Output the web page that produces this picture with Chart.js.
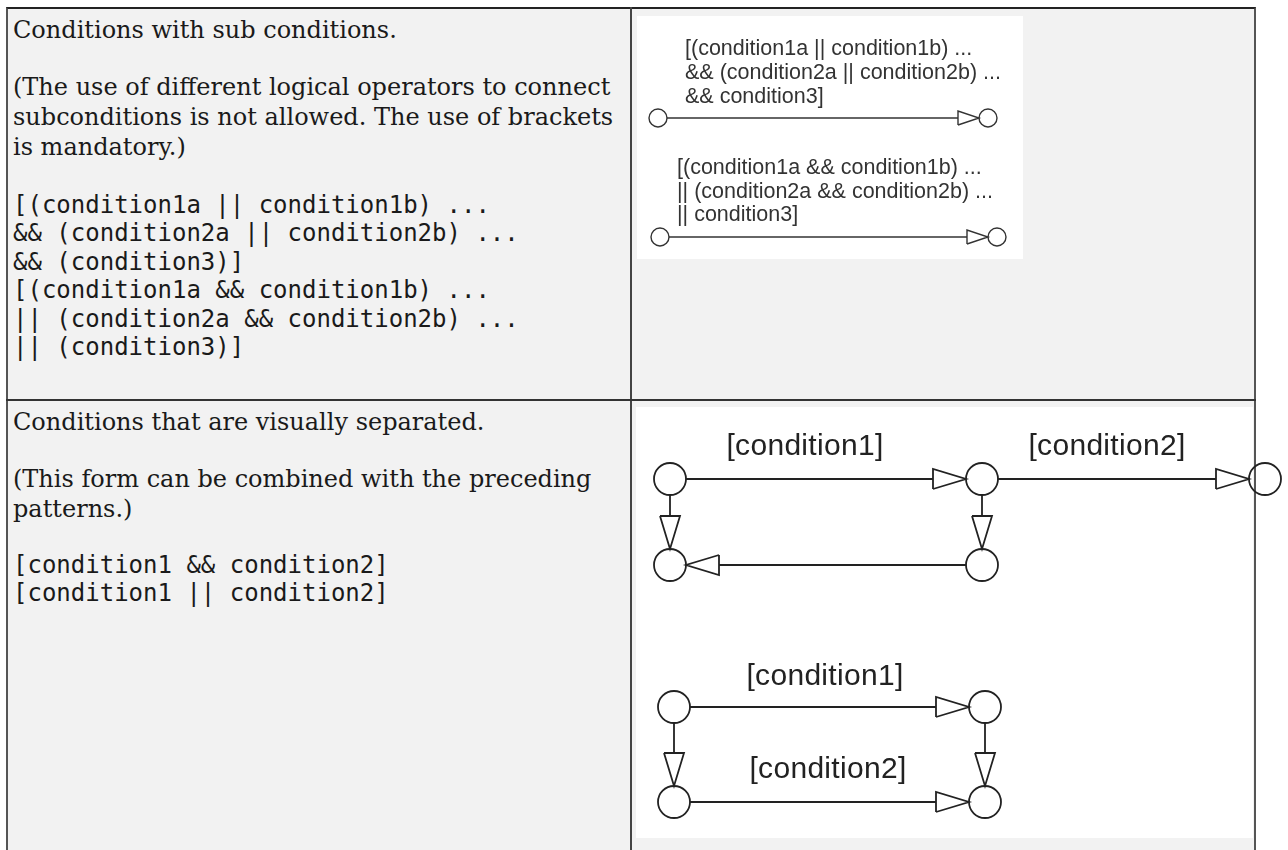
<!DOCTYPE html>
<html>
<head>
<meta charset="utf-8">
<script src="https://cdn.jsdelivr.net/npm/chart.js@4.4.1/dist/chart.umd.min.js"></script>
<style>
  html, body { margin:0; padding:0; background:#fff; width:1288px; height:850px; overflow:hidden; }
  .abs { position:absolute; }
  #tbl { left:6px; top:7px; width:1250px; height:900px; box-sizing:border-box;
         border-top:2px solid #222; border-left:2px solid #555; border-right:2px solid #555; background:#f2f2f2; }
  #vdiv { left:630px; top:7px; width:2px; height:900px; background:#444; }
  #hdiv { left:6px; top:399px; width:1250px; height:2px; background:#333; }
  .serif { font-family:"DejaVu Serif", serif; font-size:24px; line-height:30px; color:#1a1a1a; white-space:nowrap; }
  .mono { font-family:"DejaVu Sans Mono", monospace; font-size:24px; line-height:28.4px; color:#1a1a1a; white-space:pre; }
  .white { background:#fff; }
  canvas { position:absolute; display:block; }
</style>
</head>
<body>
<div id="tbl" class="abs"></div>
<div id="vdiv" class="abs"></div>
<div id="hdiv" class="abs"></div>

<div class="abs serif" style="left:13px; top:15px;">Conditions with sub conditions.</div>
<div class="abs serif" style="left:13px; top:72px;">(The use of different logical operators to connect<br>subconditions is not allowed. The use of brackets<br>is mandatory.)</div>
<div class="abs mono" style="left:13px; top:191px;">[(condition1a || condition1b) ...
&amp;&amp; (condition2a || condition2b) ...
&amp;&amp; (condition3)]
[(condition1a &amp;&amp; condition1b) ...
|| (condition2a &amp;&amp; condition2b) ...
|| (condition3)]</div>

<div class="abs serif" style="left:13px; top:407px;">Conditions that are visually separated.</div>
<div class="abs serif" style="left:13px; top:464px;">(This form can be combined with the preceding<br>patterns.)</div>
<div class="abs mono" style="left:13px; top:551px;">[condition1 &amp;&amp; condition2]
[condition1 || condition2]</div>

<div class="abs white" style="left:637px; top:16px; width:386px; height:243px;"></div>
<div class="abs white" style="left:636px; top:407px; width:617px; height:431px;"></div>

<canvas id="d1" width="386" height="243" style="left:637px; top:16px; width:386px; height:243px;"></canvas>
<canvas id="d2" width="652" height="431" style="left:636px; top:407px; width:652px; height:431px;"></canvas>

<script>
// ---------- Diagram 1: sub conditions (diagram units) ----------
const d1NodeX = [21, 351, 23, 360];
const d1NodeY = [102, 102, 221, 221];
const d1Edges = [[0, 1], [2, 3]];
const d1LabelText = [
  "[(condition1a || condition1b) ...",
  "&& (condition2a || condition2b) ...",
  "&& condition3]",
  "[(condition1a && condition1b) ...",
  "|| (condition2a && condition2b) ...",
  "|| condition3]"
];
const d1LabelX = [48, 48, 48, 40, 40, 40];
const d1LabelY = [33, 57, 81, 152, 176, 199];

// ---------- Diagram 2: visually separated conditions (diagram units) ----------
const d2NodeX = [34, 346, 629, 34, 346, 38, 349, 38, 349];
const d2NodeY = [72, 72, 72, 158, 158, 300, 300, 395, 395];
const d2Edges = [[0, 1], [1, 2], [0, 3], [1, 4], [4, 3], [5, 6], [5, 7], [6, 8], [7, 8]];
const d2LabelText = ["[condition1]", "[condition2]", "[condition1]", "[condition2]"];
const d2LabelX = [169, 471, 189, 192];
const d2LabelY = [40, 40, 270, 363];

function zipPoints(xs, ys) { return xs.map((x, i) => ({ x: x, y: ys[i] })); }

function buildDatasets(nodes, edges, st) {
  const ds = [];
  edges.forEach(([a, b]) => {
    const A = nodes[a], B = nodes[b];
    const dx = B.x - A.x, dy = B.y - A.y, L = Math.hypot(dx, dy);
    const ux = dx / L, uy = dy / L, nx = -uy, ny = ux;
    const start = { x: A.x + ux * st.r, y: A.y + uy * st.r };
    const tip = { x: B.x - ux * st.r, y: B.y - uy * st.r };
    const base = { x: tip.x - ux * st.len, y: tip.y - uy * st.len };
    const b1 = { x: base.x + nx * st.half, y: base.y + ny * st.half };
    const b2 = { x: base.x - nx * st.half, y: base.y - ny * st.half };
    ds.push({ data: [start, base], showLine: true, borderColor: st.color, borderWidth: st.lw,
              pointRadius: 0, clip: false });
    ds.push({ data: [b1, tip, b2, b1], showLine: true, borderColor: st.color, borderWidth: st.lw,
              pointRadius: 0, clip: false, borderJoinStyle: 'miter', fill: false });
  });
  ds.push({ data: nodes, showLine: false, pointStyle: 'circle', pointRadius: st.r,
            pointBorderWidth: st.lw, pointBorderColor: st.color,
            pointBackgroundColor: 'rgba(0,0,0,0)', clip: false });
  return ds;
}

function labelPlugin(texts, xs, ys, font, color, spacing) {
  return {
    id: 'diagramLabels',
    afterDatasetsDraw(chart) {
      const ctx = chart.ctx, sx = chart.scales.x, sy = chart.scales.y;
      ctx.save();
      ctx.font = font;
      ctx.fillStyle = color;
      ctx.textBaseline = 'middle';
      if ('letterSpacing' in ctx) ctx.letterSpacing = spacing;
      texts.forEach((t, i) => {
        ctx.textAlign = 'left';
        ctx.fillText(t, sx.getPixelForValue(xs[i]), sy.getPixelForValue(ys[i]));
      });
      ctx.restore();
    }
  };
}

function makeDiagram(id, w, h, nodes, edges, st, plugin) {
  return new Chart(document.getElementById(id), {
    type: 'scatter',
    data: { datasets: buildDatasets(nodes, edges, st) },
    options: {
      responsive: false, animation: false, devicePixelRatio: 1, events: [],
      layout: { padding: 0, autoPadding: false },
      scales: {
        x: { type: 'linear', min: 0, max: w, display: false },
        y: { type: 'linear', min: 0, max: h, reverse: true, display: false }
      },
      plugins: { legend: { display: false }, tooltip: { enabled: false } }
    },
    plugins: [plugin]
  });
}

// centred labels for diagram 2: convert centre anchors to left anchors via measured width
function centredPlugin(texts, xs, ys, font, color, spacing) {
  return {
    id: 'diagramLabelsC',
    afterDatasetsDraw(chart) {
      const ctx = chart.ctx, sx = chart.scales.x, sy = chart.scales.y;
      ctx.save();
      ctx.font = font;
      ctx.fillStyle = color;
      ctx.textBaseline = 'middle';
      ctx.textAlign = 'center';
      if ('letterSpacing' in ctx) ctx.letterSpacing = spacing;
      texts.forEach((t, i) => ctx.fillText(t, sx.getPixelForValue(xs[i]), sy.getPixelForValue(ys[i])));
      ctx.restore();
    }
  };
}

makeDiagram('d1', 386, 243, zipPoints(d1NodeX, d1NodeY), d1Edges,
  { r: 9, len: 21, half: 7, lw: 1.4, color: '#333' },
  labelPlugin(d1LabelText, d1LabelX, d1LabelY, '21.5px "Liberation Sans", Arial, sans-serif', '#333', '0px'));

makeDiagram('d2', 652, 431, zipPoints(d2NodeX, d2NodeY), d2Edges,
  { r: 16, len: 33, half: 10, lw: 1.8, color: '#222' },
  centredPlugin(d2LabelText, d2LabelX, d2LabelY, '30px "Liberation Sans", Arial, sans-serif', '#222', '0.3px'));
</script>
</body>
</html>
